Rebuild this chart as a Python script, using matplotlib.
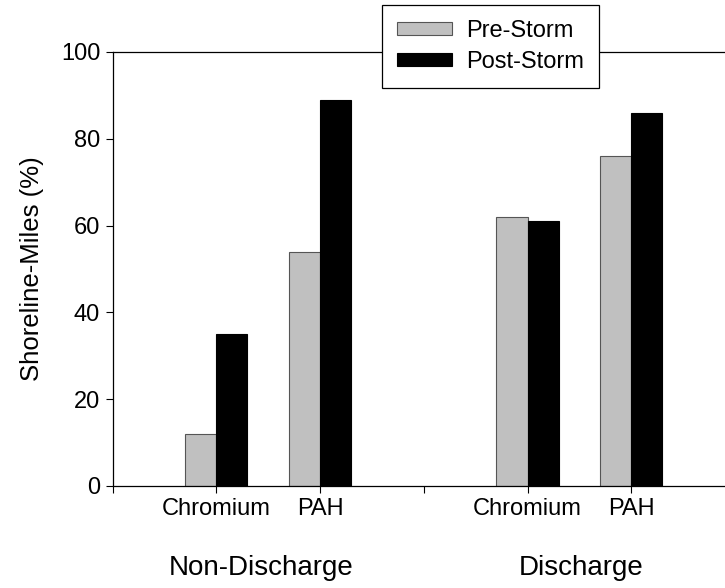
import numpy as np
import matplotlib
matplotlib.use("Agg")
import matplotlib.pyplot as plt

plt.rcParams['font.family'] = ['Liberation Sans', 'DejaVu Sans']

#  Data
groups = ["Non-Discharge", "Discharge"]
analytes = ["Chromium", "PAH", "Chromium", "PAH"]
pre_storm = [12, 54, 62, 76]
post_storm = [35, 89, 61, 86]
xpos = [1, 2, 4, 5]
group_centres = [1.43, 4.52]

w = 0.3
fig = plt.figure(figsize=(7.25, 5.88), dpi=100)
ax = fig.add_axes([0.1554, 0.1735, (735 - 112.7) / 725, 0.9116 - 0.1735])

x = np.array(xpos)
ax.bar(x - w/2, pre_storm, w, color='#c0c0c0', edgecolor='#555555',
       linewidth=0.8, label='Pre-Storm')
ax.bar(x + w/2, post_storm, w, color='black', edgecolor='black',
       linewidth=0.8, label='Post-Storm')

ax.set_xlim(0, 6)
ax.set_ylim(0, 100)
ax.set_yticks([0, 20, 40, 60, 80, 100])
ax.set_xticks([0, 1, 2, 3, 4, 5])
ax.set_xticklabels([])
ax.tick_params(axis='both', direction='out', length=5, width=0.8,
               labelsize=17, color='black')
ax.tick_params(axis='y', pad=4)
ax.spines['right'].set_visible(False)
for s in ['left', 'bottom', 'top']:
    ax.spines[s].set_linewidth(0.9)

ax.set_ylabel("Shoreline-Miles (%)", fontsize=18.5, labelpad=12)

#  Category labels under the ticks
for xp, name in zip(xpos, analytes):
    ax.text(xp, -5.3, name, ha='center', va='center',
            fontsize=17, clip_on=False)
for xp, name in zip(group_centres, groups):
    ax.text(xp, -18.9, name, ha='center', va='center', fontsize=20,
            clip_on=False)

leg = fig.legend(loc='upper left', bbox_to_anchor=(382/725, 1 - 5/588),
                 fontsize=17, frameon=True, fancybox=False, framealpha=1,
                 edgecolor='black', handlelength=2.35, handleheight=0.5,
                 borderpad=0.62, labelspacing=0.4, handletextpad=0.6,
                 borderaxespad=0)
leg.get_frame().set_linewidth(0.9)

fig.savefig("out.png", dpi=100)
